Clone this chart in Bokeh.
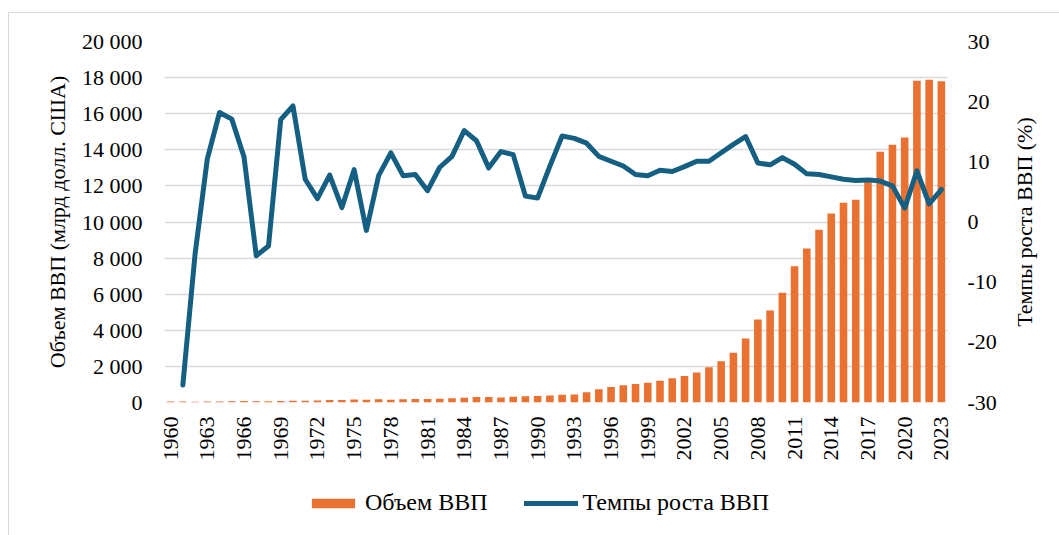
from bokeh.plotting import figure
from bokeh.models import Range1d, LinearAxis, FixedTicker, Legend, LegendItem, InlineStyleSheet
from bokeh.layouts import column, row
from bokeh.embed import file_html
from bokeh.resources import INLINE
from math import pi

years = list(range(1960, 2024))
gdp = [59.7, 50.1, 47.2, 50.7, 59.7, 70.4, 76.7, 72.9, 70.8, 79.7,
       92.6, 99.8, 113.7, 138.5, 144.2, 163.4, 153.9, 174.9, 149.5, 178.3,
       191.1, 195.9, 205.1, 230.7, 259.9, 309.5, 300.8, 272.9, 312.4, 347.8,
       360.9, 383.4, 427.0, 444.7, 564.3, 734.5, 863.7, 961.6, 1029.0, 1094.0,
       1211.3, 1339.4, 1470.6, 1660.3, 1955.3, 2285.9, 2752.1, 3550.3, 4594.3, 5101.7,
       6087.2, 7551.5, 8532.2, 9570.4, 10475.7, 11061.6, 11233.3, 12310.4, 13894.8, 14279.9,
       14687.7, 17820.5, 17881.8, 17795.0]

growth_years = list(range(1961, 2024))
growth = [-27.1, -5.3, 10.5, 18.2, 17.1, 10.8, -5.6, -4.0, 17.0, 19.3,
          7.1, 3.9, 7.8, 2.4, 8.7, -1.4, 7.7, 11.5, 7.7, 7.9,
          5.2, 9.1, 10.9, 15.2, 13.5, 9.0, 11.7, 11.2, 4.3, 4.0,
          9.3, 14.3, 13.9, 13.1, 10.9, 10.1, 9.3, 7.9, 7.7, 8.6,
          8.4, 9.2, 10.1, 10.1, 11.5, 12.9, 14.2, 9.8, 9.5, 10.7,
          9.6, 8.0, 7.9, 7.5, 7.1, 6.9, 7.0, 6.8, 6.0, 2.3,
          8.5, 3.0, 5.4]

left_ticks = [0, 2000, 4000, 6000, 8000, 10000, 12000, 14000, 16000, 18000, 20000]
left_labels = ["0", "2 000", "4 000", "6 000", "8 000", "10 000", "12 000",
               "14 000", "16 000", "18 000", "20 000"]
right_ticks = [-30, -20, -10, 0, 10, 20, 30]
right_labels = ["-30", "-20", "-10", "0", "10", "20", "30"]
year_ticks = list(range(1960, 2024, 3))

left_title = "Объем ВВП (млрд долл. США)"
right_title = "Темпы роста ВВП (%)"
bar_label = "Объем ВВП"
line_label = "Темпы роста ВВП"

FONT = "Liberation Serif"
FS = "22px"
LEG_FS = "24px"
BAR_COLOR = "#E97132"
LINE_COLOR = "#156082"
GRID = "#d9d9d9"

W = 1059
W1 = 1008
H1, H2 = 470, 65

p = figure(width=W1, height=H1, output_backend="svg", toolbar_location=None,
           x_range=Range1d(1959.5, 2023.5), y_range=Range1d(0, 20000),
           min_border_left=164, min_border_right=61, min_border_top=41,
           min_border_bottom=68)
p.extra_y_ranges = {"g": Range1d(-30, 30)}
p.outline_line_color = None
p.background_fill_color = "white"
p.border_fill_color = "white"

bars = p.vbar(x=years, top=gdp, width=0.62, fill_color=BAR_COLOR, line_color=None)
line = p.line(growth_years, growth, y_range_name="g", line_color=LINE_COLOR,
              line_width=5, line_join="round", line_cap="round")

p.xgrid.grid_line_color = None
p.ygrid.ticker = FixedTicker(ticks=left_ticks)
p.ygrid.grid_line_color = GRID
p.ygrid.grid_line_width = 1.5

ya = p.yaxis[0]
ya.ticker = FixedTicker(ticks=left_ticks)
ya.major_label_overrides = dict(zip(left_ticks, left_labels))
ya.axis_label = left_title

ra = LinearAxis(y_range_name="g", ticker=FixedTicker(ticks=right_ticks))
ra.major_label_overrides = dict(zip(right_ticks, right_labels))
p.add_layout(ra, "right")

xa = p.xaxis[0]
xa.ticker = FixedTicker(ticks=year_ticks)
xa.major_label_orientation = pi / 2

# strip on the right that carries the right-hand axis title, read bottom to top
p3 = figure(width=W - W1, height=H1, output_backend="svg", toolbar_location=None,
            x_range=Range1d(0, 1), y_range=Range1d(-30, 30), x_axis_type=None,
            min_border_left=0, min_border_right=0, min_border_top=41,
            min_border_bottom=68)
p3.outline_line_color = None
p3.grid.visible = False
p3.background_fill_color = "white"
p3.border_fill_color = "white"
ta = p3.yaxis[0]
ta.ticker = FixedTicker(ticks=[])
ta.axis_label = right_title

for ax in (ya, ra, xa, ta):
    ax.axis_line_color = None
    ax.major_tick_line_color = None
    ax.minor_tick_line_color = None
    ax.major_tick_out = 0
    ax.major_tick_in = 0
    ax.minor_tick_out = 0
    ax.minor_tick_in = 0
    ax.major_label_text_font = FONT
    ax.major_label_text_font_size = FS
    ax.major_label_text_color = "black"
    ax.axis_label_text_font = FONT
    ax.axis_label_text_font_size = FS
    ax.axis_label_text_font_style = "normal"
    ax.axis_label_text_color = "black"
    ax.axis_label_standoff = 9

ta.axis_label_standoff = 4
ya.major_label_standoff = 22
ra.major_label_standoff = 20
xa.major_label_standoff = 14

# legend strip below the chart (proxy glyphs styled like the series, outside view)
p2 = figure(width=W, height=H2, output_backend="svg", toolbar_location=None,
            x_range=Range1d(0, 1), y_range=Range1d(0, 1),
            x_axis_type=None, y_axis_type=None, min_border=0)
p2.outline_line_color = None
p2.grid.visible = False
p2.background_fill_color = "white"
p2.border_fill_color = "white"
proxy_bar = p2.vbar(x=[-10], top=[-10], width=0.5, fill_color=BAR_COLOR, line_color=None)
proxy_line = p2.line([-10, -9], [-10, -10], line_color=LINE_COLOR, line_width=5,
                     line_cap="round")

legend = Legend(items=[LegendItem(label=bar_label, renderers=[proxy_bar]),
                       LegendItem(label=line_label, renderers=[proxy_line])],
                orientation="horizontal", location=(306, 19),
                label_text_font=FONT, label_text_font_size=LEG_FS,
                label_text_color="black",
                glyph_width=54, glyph_height=12, label_standoff=5,
                spacing=36, border_line_color=None, background_fill_alpha=0,
                margin=0, padding=0)
p2.add_layout(legend, "center")

frame_css = InlineStyleSheet(css="""
:host::after {
  content: "";
  position: absolute;
  left: 8px; top: 12px; right: 0; bottom: 0;
  border-left: 1px solid #d9d9d9;
  border-top: 1px solid #d9d9d9;
  pointer-events: none;
}
""")

layout = column(row(p, p3, spacing=0), p2, spacing=0, stylesheets=[frame_css])
open("out.html", "w").write(file_html(layout, INLINE))
